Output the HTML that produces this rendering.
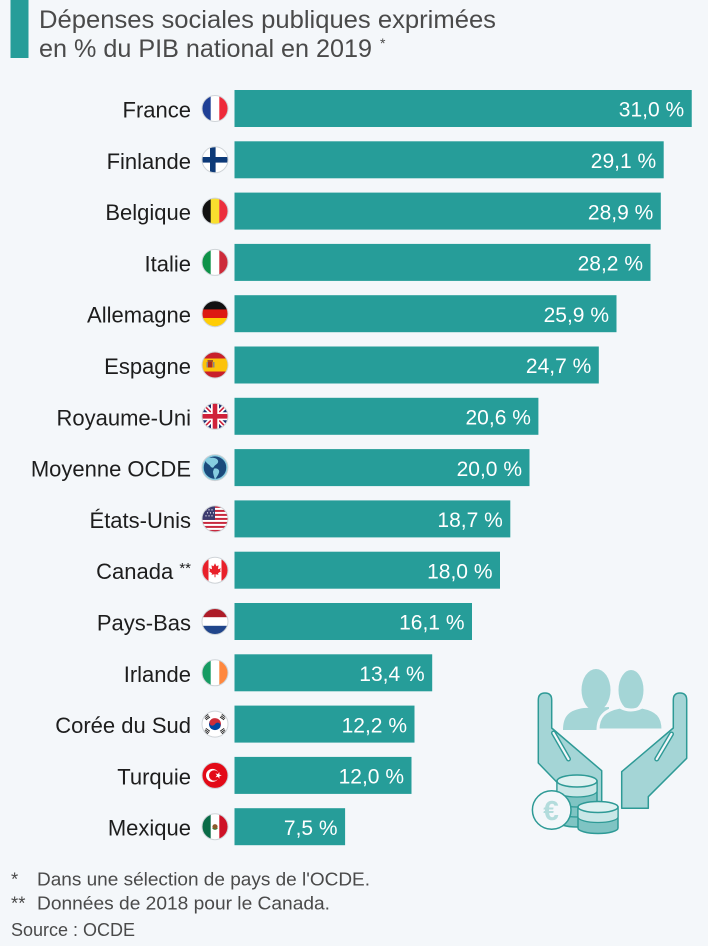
<!DOCTYPE html>
<html><head><meta charset="utf-8"><style>
html,body{margin:0;padding:0;background:#f4f7fa;}
svg{display:block;}
text{font-family:"Liberation Sans",sans-serif;}
</style></head><body>
<svg width="708" height="946" viewBox="0 0 708 946" xmlns="http://www.w3.org/2000/svg">
<defs><clipPath id="c" clipPathUnits="userSpaceOnUse"><circle cx="0" cy="0" r="13"/></clipPath></defs>
<rect width="708" height="946" fill="#f4f7fa"/>
<!-- title -->
<rect x="10.5" y="0" width="18" height="58" fill="#269d99"/>
<text x="39" y="28" font-size="25" fill="#4a4a4a" textLength="457" lengthAdjust="spacingAndGlyphs">Dépenses sociales publiques exprimées</text>
<text x="39" y="57" font-size="25" fill="#4a4a4a" textLength="333" lengthAdjust="spacingAndGlyphs">en % du PIB national en 2019</text>
<text x="380" y="48" font-size="14" fill="#4a4a4a">*</text>

<!-- bars -->
<g fill="#269d99">
<rect x="234.5" y="90" width="457.25" height="37"/>
<rect x="234.5" y="141.3" width="429.2" height="37"/>
<rect x="234.5" y="192.6" width="426.3" height="37"/>
<rect x="234.5" y="243.9" width="416" height="37"/>
<rect x="234.5" y="295.2" width="382" height="37"/>
<rect x="234.5" y="346.5" width="364.3" height="37"/>
<rect x="234.5" y="397.8" width="303.9" height="37"/>
<rect x="234.5" y="449.1" width="295" height="37"/>
<rect x="234.5" y="500.4" width="275.8" height="37"/>
<rect x="234.5" y="551.7" width="265.5" height="37"/>
<rect x="234.5" y="603" width="237.5" height="37"/>
<rect x="234.5" y="654.3" width="197.7" height="37"/>
<rect x="234.5" y="705.6" width="180" height="37"/>
<rect x="234.5" y="756.9" width="177" height="37"/>
<rect x="234.5" y="808.2" width="110.6" height="37"/>
</g>
<!-- values -->
<g fill="#ffffff" font-size="21" text-anchor="end">
<text x="684.2" y="116.7">31,0 %</text>
<text x="656.2" y="168">29,1 %</text>
<text x="653.3" y="219.3">28,9 %</text>
<text x="643" y="270.6">28,2 %</text>
<text x="609" y="321.9">25,9 %</text>
<text x="591.3" y="373.2">24,7 %</text>
<text x="530.9" y="424.5">20,6 %</text>
<text x="522" y="475.8">20,0 %</text>
<text x="502.8" y="527.1">18,7 %</text>
<text x="492.5" y="578.4">18,0 %</text>
<text x="464.5" y="629.7">16,1 %</text>
<text x="424.7" y="681">13,4 %</text>
<text x="407" y="732.3">12,2 %</text>
<text x="404" y="783.6">12,0 %</text>
<text x="337.6" y="834.9">7,5 %</text>
</g>
<!-- labels -->
<g fill="#1d1d1d" font-size="22" text-anchor="end">
<text x="191" y="117.5">France</text>
<text x="191" y="168.8">Finlande</text>
<text x="191" y="220.1">Belgique</text>
<text x="191" y="271.4">Italie</text>
<text x="191" y="322.7">Allemagne</text>
<text x="191" y="374">Espagne</text>
<text x="191" y="425.3">Royaume-Uni</text>
<text x="191" y="476.6">Moyenne OCDE</text>
<text x="191" y="527.9">États-Unis</text>
<text x="191" y="579.2">Canada <tspan font-size="15" dy="-6">**</tspan></text>
<text x="191" y="630.5">Pays-Bas</text>
<text x="191" y="681.8">Irlande</text>
<text x="191" y="733.1">Corée du Sud</text>
<text x="191" y="784.4">Turquie</text>
<text x="191" y="835.7">Mexique</text>
</g>

<!-- flags -->
<!-- France -->
<g transform="translate(215,108.5)"><g clip-path="url(#c)">
<rect x="-13" y="-13" width="9" height="26" fill="#1f3f95"/><rect x="-4.3" y="-13" width="8.7" height="26" fill="#fff"/><rect x="4.3" y="-13" width="9" height="26" fill="#ee2a3a"/></g>
<circle r="13" fill="none" stroke="#cfd4d8" stroke-width="1"/></g>
<!-- Finland -->
<g transform="translate(215,159.8)"><g clip-path="url(#c)">
<rect x="-13" y="-13" width="26" height="26" fill="#fff"/><rect x="-13" y="-2.8" width="26" height="5.6" fill="#0d3a78"/><rect x="-5" y="-13" width="5.6" height="26" fill="#0d3a78"/></g>
<circle r="13" fill="none" stroke="#cfd4d8" stroke-width="1"/></g>
<!-- Belgium -->
<g transform="translate(215,211.1)"><g clip-path="url(#c)">
<rect x="-13" y="-13" width="9" height="26" fill="#111"/><rect x="-4.3" y="-13" width="8.7" height="26" fill="#f9df2e"/><rect x="4.3" y="-13" width="9" height="26" fill="#ec2f3d"/></g>
<circle r="13" fill="none" stroke="#cfd4d8" stroke-width="1"/></g>
<!-- Italy -->
<g transform="translate(215,262.4)"><g clip-path="url(#c)">
<rect x="-13" y="-13" width="9" height="26" fill="#0d9248"/><rect x="-4.3" y="-13" width="8.7" height="26" fill="#fff"/><rect x="4.3" y="-13" width="9" height="26" fill="#cd2b3a"/></g>
<circle r="13" fill="none" stroke="#cfd4d8" stroke-width="1"/></g>
<!-- Germany -->
<g transform="translate(215,313.7)"><g clip-path="url(#c)">
<rect x="-13" y="-13" width="26" height="9" fill="#111"/><rect x="-13" y="-4.3" width="26" height="8.7" fill="#dd1a12"/><rect x="-13" y="4.3" width="26" height="9" fill="#ffcd05"/></g>
<circle r="13" fill="none" stroke="#cfd4d8" stroke-width="1"/></g>
<!-- Spain -->
<g transform="translate(215,365)"><g clip-path="url(#c)">
<rect x="-13" y="-13" width="26" height="26" fill="#c8202b"/><rect x="-13" y="-6.5" width="26" height="13" fill="#fcc30b"/>
<rect x="-7" y="-3.5" width="4.5" height="6" fill="#b22a1e"/><rect x="-7.5" y="-5" width="5.5" height="1.8" fill="#a0522d"/><rect x="-2" y="-3" width="1.5" height="5.5" fill="#888"/><rect x="-8.5" y="-3" width="1.5" height="5.5" fill="#888"/></g>
<circle r="13" fill="none" stroke="#cfd4d8" stroke-width="1"/></g>
<!-- UK -->
<g transform="translate(215,416.3)"><g clip-path="url(#c)">
<rect x="-13" y="-13" width="26" height="26" fill="#1d2f6f"/>
<path d="M-13,-13 L13,13 M13,-13 L-13,13" stroke="#fff" stroke-width="5"/>
<path d="M-13,-13 L13,13 M13,-13 L-13,13" stroke="#d0213a" stroke-width="1.6"/>
<path d="M0,-13 V13 M-13,0 H13" stroke="#fff" stroke-width="8"/>
<path d="M0,-13 V13 M-13,0 H13" stroke="#d0213a" stroke-width="4.6"/></g>
<circle r="13" fill="none" stroke="#cfd4d8" stroke-width="1"/></g>
<!-- OECD globe -->
<g transform="translate(215,467.6)"><g clip-path="url(#c)">
<circle r="13" fill="#1b4a7c"/>
<path d="M-9,-8 C-5,-11 2,-10 3,-7 C4,-4 0,-3 -1,-1 C-2,1 -4,0 -5,-2 C-7,-4 -10,-5 -9,-8 Z" fill="#86cde0"/>
<path d="M-1,1 C2,0 5,2 4,5 C3,8 1,10 0,12 C-1,9 -2,6 -2,4 Z" fill="#86cde0"/>
<circle r="12" fill="none" stroke="#86cde0" stroke-width="1.5"/></g>
<circle r="13" fill="none" stroke="#cfd4d8" stroke-width="1"/></g>
<!-- USA -->
<g transform="translate(215,518.9)"><g clip-path="url(#c)">
<rect x="-13" y="-13" width="26" height="26" fill="#fff"/>
<g fill="#c8283e"><rect x="-13" y="-13" width="26" height="2"/><rect x="-13" y="-9" width="26" height="2"/><rect x="-13" y="-5" width="26" height="2"/><rect x="-13" y="-1" width="26" height="2"/><rect x="-13" y="3" width="26" height="2"/><rect x="-13" y="7" width="26" height="2"/><rect x="-13" y="11" width="26" height="2"/></g>
<rect x="-13" y="-13" width="13" height="14" fill="#3c3b6e"/>
<g fill="#fff"><circle cx="-9" cy="-9" r="0.6"/><circle cx="-6" cy="-9" r="0.6"/><circle cx="-3" cy="-9" r="0.6"/><circle cx="-7.5" cy="-6" r="0.6"/><circle cx="-4.5" cy="-6" r="0.6"/><circle cx="-1.5" cy="-6" r="0.6"/><circle cx="-9" cy="-3" r="0.6"/><circle cx="-6" cy="-3" r="0.6"/><circle cx="-3" cy="-3" r="0.6"/></g></g>
<circle r="13" fill="none" stroke="#cfd4d8" stroke-width="1"/></g>
<!-- Canada -->
<g transform="translate(215,570.2)"><g clip-path="url(#c)">
<rect x="-13" y="-13" width="26" height="26" fill="#fff"/><rect x="-13" y="-13" width="6.5" height="26" fill="#e8202a"/><rect x="6.5" y="-13" width="6.5" height="26" fill="#e8202a"/>
<polygon points="0,-7 1.5,-4 3.5,-5 3,-1 6,-2 5,0 6,1 3,3 3.5,4.5 0.5,4 0.5,7 -0.5,7 -0.5,4 -3.5,4.5 -3,3 -6,1 -5,0 -6,-2 -3,-1 -3.5,-5 -1.5,-4" fill="#e8202a"/></g>
<circle r="13" fill="none" stroke="#cfd4d8" stroke-width="1"/></g>
<!-- Netherlands -->
<g transform="translate(215,621.5)"><g clip-path="url(#c)">
<rect x="-13" y="-13" width="26" height="9" fill="#ae1c28"/><rect x="-13" y="-4.3" width="26" height="8.7" fill="#fff"/><rect x="-13" y="4.3" width="26" height="9" fill="#21468b"/></g>
<circle r="13" fill="none" stroke="#cfd4d8" stroke-width="1"/></g>
<!-- Ireland -->
<g transform="translate(215,672.8)"><g clip-path="url(#c)">
<rect x="-13" y="-13" width="9" height="26" fill="#169b62"/><rect x="-4.3" y="-13" width="8.7" height="26" fill="#fff"/><rect x="4.3" y="-13" width="9" height="26" fill="#ff883e"/></g>
<circle r="13" fill="none" stroke="#cfd4d8" stroke-width="1"/></g>
<!-- Korea -->
<g transform="translate(215,724.1)"><g clip-path="url(#c)">
<rect x="-13" y="-13" width="26" height="26" fill="#fff"/>
<g transform="rotate(30)"><path d="M-6,0 A6,6 0 0,1 6,0 Z" fill="#cd2e3a"/><path d="M-6,0 A6,6 0 0,0 6,0 Z" fill="#0047a0"/><circle cx="-3" cy="0" r="3" fill="#cd2e3a"/><circle cx="3" cy="0" r="3" fill="#0047a0"/></g>
<g fill="#222">
<g transform="translate(-8,-7) rotate(-35)"><rect x="-2.5" y="-2" width="5" height="0.9"/><rect x="-2.5" y="-0.4" width="5" height="0.9"/><rect x="-2.5" y="1.2" width="5" height="0.9"/></g>
<g transform="translate(8,-7) rotate(35)"><rect x="-2.5" y="-2" width="5" height="0.9"/><rect x="-2.5" y="-0.4" width="5" height="0.9"/><rect x="-2.5" y="1.2" width="5" height="0.9"/></g>
<g transform="translate(-8,7) rotate(35)"><rect x="-2.5" y="-2" width="5" height="0.9"/><rect x="-2.5" y="-0.4" width="5" height="0.9"/><rect x="-2.5" y="1.2" width="5" height="0.9"/></g>
<g transform="translate(8,7) rotate(-35)"><rect x="-2.5" y="-2" width="5" height="0.9"/><rect x="-2.5" y="-0.4" width="5" height="0.9"/><rect x="-2.5" y="1.2" width="5" height="0.9"/></g>
</g></g>
<circle r="13" fill="none" stroke="#cfd4d8" stroke-width="1"/></g>
<!-- Turkey -->
<g transform="translate(215,775.4)"><g clip-path="url(#c)">
<rect x="-13" y="-13" width="26" height="26" fill="#e30a17"/>
<circle cx="-2.5" cy="0" r="6.5" fill="#fff"/><circle cx="-0.8" cy="0" r="5.2" fill="#e30a17"/>
<polygon points="6.8,0 4.4,0.8 4.4,3.3 2.9,1.3 0.5,2 2,0 0.5,-2 2.9,-1.3 4.4,-3.3 4.4,-0.8" fill="#fff"/></g>
<circle r="13" fill="none" stroke="#cfd4d8" stroke-width="1"/></g>
<!-- Mexico -->
<g transform="translate(215,826.7)"><g clip-path="url(#c)">
<rect x="-13" y="-13" width="9" height="26" fill="#0a6b47"/><rect x="-4.3" y="-13" width="8.7" height="26" fill="#fff"/><rect x="4.3" y="-13" width="9" height="26" fill="#ce1126"/>
<circle cx="0" cy="0" r="2.6" fill="#8c5a2b"/><path d="M-2.5,1.5 Q0,4 2.5,1.5" stroke="#2e7d32" stroke-width="0.8" fill="none"/></g>
<circle r="13" fill="none" stroke="#cfd4d8" stroke-width="1"/></g>

<!-- illustration -->
<g>
<!-- people -->
<ellipse cx="596" cy="690" rx="14.5" ry="21" fill="#a4d5d6"/>
<path d="M563,730 C563,716 569,710 584,708 L609,707 L609,730 Z" fill="#a4d5d6"/>
<ellipse cx="631" cy="690" rx="14" ry="21.5" fill="#a4d5d6" stroke="#f4f7fa" stroke-width="3"/>
<path d="M598,730 C598,716 605,710 620,707 Q631,713 642,707 C657,710 663,716 663,730 Z" fill="#a4d5d6" stroke="#f4f7fa" stroke-width="3"/>
<rect x="560" y="730" width="106" height="4" fill="#f4f7fa"/>
<!-- hands -->
<path d="M538.3,700 Q538.3,693 545,693 Q551.7,693 551.7,700 L551.7,728 L601.7,770.7 L601.7,813 L586.7,813 L538.3,763 Z" fill="#a4d5d6" stroke="#2e9a96" stroke-width="1.5" stroke-linejoin="round"/>
<line x1="553.5" y1="733" x2="568.5" y2="759" stroke="#2e9a96" stroke-width="5" stroke-linecap="round"/>
<line x1="553.5" y1="733" x2="568.5" y2="759" stroke="#f4f7fa" stroke-width="2.2" stroke-linecap="round"/>
<path d="M686.7,700 Q686.7,693 680,693 Q673.3,693 673.3,700 L673.3,728 L621.7,771.7 L621.7,808.3 L648.3,808.3 L648.3,796.7 L686.7,758.3 Z" fill="#a4d5d6" stroke="#2e9a96" stroke-width="1.5" stroke-linejoin="round"/>
<line x1="671.5" y1="734" x2="656.7" y2="759" stroke="#2e9a96" stroke-width="5" stroke-linecap="round"/>
<line x1="671.5" y1="734" x2="656.7" y2="759" stroke="#f4f7fa" stroke-width="2.2" stroke-linecap="round"/>
<!-- left coin stack -->
<path d="M557,781 L557,821 A20,6 0 0,0 597,821 L597,781 Z" fill="#7fc4c3" stroke="#2e9a96" stroke-width="1.5"/>
<path d="M557,781 L557,791 A20,6 0 0,0 597,791 L597,781 Z" fill="#c9e7e7" stroke="#2e9a96" stroke-width="1.2"/>
<path d="M557,801 A20,6 0 0,0 597,801" fill="none" stroke="#2e9a96" stroke-width="1.2"/>
<path d="M557,811 A20,6 0 0,0 597,811" fill="none" stroke="#2e9a96" stroke-width="1.2"/>
<ellipse cx="577" cy="781" rx="20" ry="6" fill="#dff1f1" stroke="#2e9a96" stroke-width="1.5"/>
<!-- euro coin -->
<circle cx="551.7" cy="810" r="19.3" fill="#f4f7fa" stroke="#2e9a96" stroke-width="1.5"/>
<text x="551" y="820" font-size="28" font-weight="bold" fill="#b3dcdc" text-anchor="middle">€</text>
<!-- right coin stack -->
<path d="M578,807 L578,828 A20,5.5 0 0,0 618,828 L618,807 Z" fill="#7fc4c3" stroke="#2e9a96" stroke-width="1.5"/>
<path d="M578,807 L578,817 A20,5.5 0 0,0 618,817 L618,807 Z" fill="#c9e7e7" stroke="#2e9a96" stroke-width="1.2"/>
<ellipse cx="598" cy="807" rx="20" ry="5.5" fill="#dff1f1" stroke="#2e9a96" stroke-width="1.5"/>
</g>

<!-- footer -->
<g fill="#4a4a4a" font-size="18.5">
<text x="11" y="885.5">*</text>
<text x="37" y="885.5" textLength="333" lengthAdjust="spacingAndGlyphs">Dans une sélection de pays de l'OCDE.</text>
<text x="11" y="909.5">**</text>
<text x="37" y="909.5" textLength="293" lengthAdjust="spacingAndGlyphs">Données de 2018 pour le Canada.</text>
<text x="11" y="936" textLength="124" lengthAdjust="spacingAndGlyphs">Source : OCDE</text>
</g>
</svg>
</body></html>
